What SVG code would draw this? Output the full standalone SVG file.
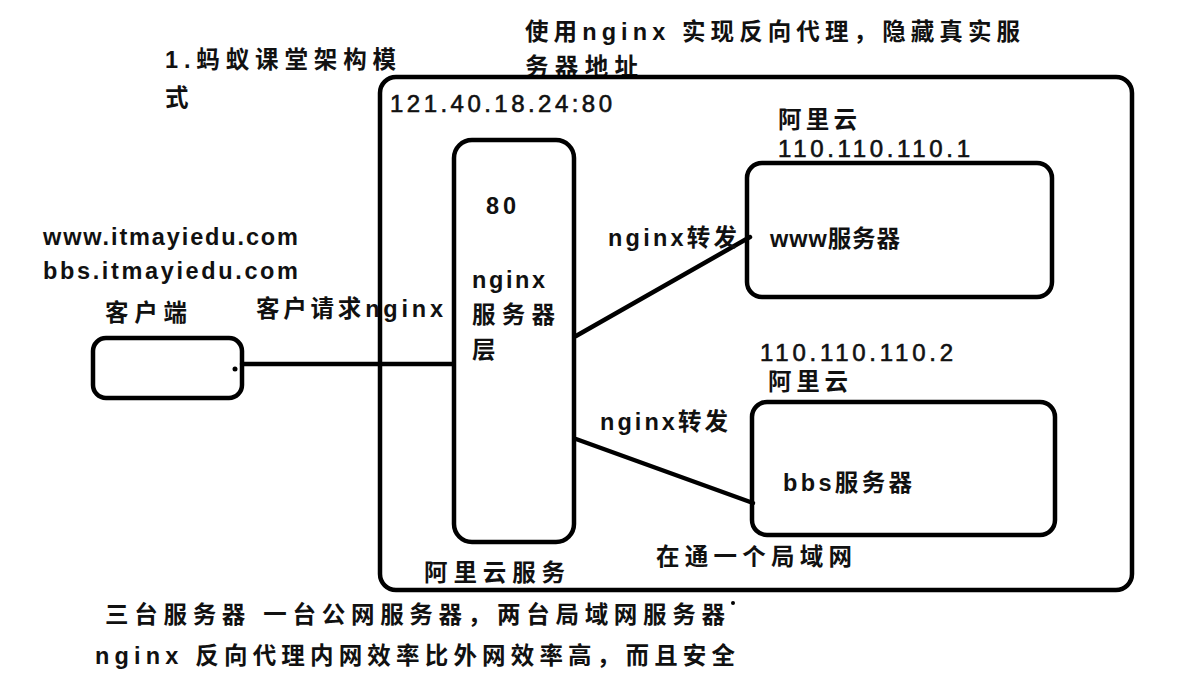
<svg xmlns="http://www.w3.org/2000/svg" width="1186" height="699" viewBox="0 0 1186 699">
<style>
.box{fill:none;stroke:#000;stroke-width:4.5}
.ln{fill:none;stroke:#000;stroke-width:4.5;stroke-linecap:round}
text{font-family:"Liberation Sans","Noto Sans CJK SC",sans-serif;font-size:23.5px;font-weight:bold;fill:#111}
.cj{font-family:"Noto Sans CJK SC",sans-serif}
.num{font-weight:normal;font-size:24px;stroke:#111;stroke-width:0.6}
</style>
<rect width="1186" height="699" fill="#fff"/>
<g id="notes">
<text x="165" y="68" textLength="231" lengthAdjust="spacing">1.蚂蚁课堂架构模</text>
<text x="165" y="106" class="cj">式</text>
<text x="525" y="40" textLength="495" lengthAdjust="spacing">使用nginx 实现反向代理，隐藏真实服</text>
<text x="525" y="75" textLength="113" lengthAdjust="spacing" class="cj">务器地址</text>
<text x="43" y="245" textLength="255" lengthAdjust="spacing">www.itmayiedu.com</text>
<text x="43" y="279" textLength="255" lengthAdjust="spacing">bbs.itmayiedu.com</text>
<text x="105" y="623" textLength="620" lengthAdjust="spacing">三台服务器 一台公网服务器，两台局域网服务器</text>
<circle cx="733" cy="603" r="2" fill="#000"/>
<text x="95" y="664" textLength="640" lengthAdjust="spacing">nginx 反向代理内网效率比外网效率高，而且安全</text>
</g>
<g id="aliyun">
<rect class="box" x="380" y="77" width="752" height="513" rx="16"/>
<text x="390" y="112" textLength="222" lengthAdjust="spacing" class="num">121.40.18.24:80</text>
<text x="424" y="581" textLength="141" lengthAdjust="spacing" class="cj">阿里云服务</text>
<text x="656" y="565" textLength="196" lengthAdjust="spacing" class="cj">在通一个局域网</text>
</g>
<g id="connectors">
<line class="ln" x1="242" y1="364" x2="453" y2="364"/>
<line class="ln" x1="576" y1="336" x2="750" y2="237"/>
<line class="ln" x1="576" y1="439" x2="753" y2="503"/>
<text x="256" y="317" textLength="187" lengthAdjust="spacing">客户请求nginx</text>
<text x="608" y="246" textLength="129" lengthAdjust="spacing">nginx转发</text>
<text x="600" y="430" textLength="128" lengthAdjust="spacing">nginx转发</text>
</g>
<g id="client">
<rect class="box" x="93" y="338" width="149" height="60" rx="13"/>
<circle cx="235" cy="369" r="2.5" fill="#000"/>
<text x="105" y="321" textLength="82" lengthAdjust="spacing" class="cj">客户端</text>
</g>
<g id="nginx">
<rect class="box" x="454" y="140" width="120" height="402" rx="18"/>
<text x="486" y="214" textLength="30" lengthAdjust="spacing">80</text>
<text x="472" y="288" textLength="73" lengthAdjust="spacing">nginx</text>
<text x="472" y="323" textLength="83" lengthAdjust="spacing" class="cj">服务器</text>
<text x="472" y="358" class="cj">层</text>
</g>
<g id="www">
<rect class="box" x="747" y="163" width="305" height="134" rx="15"/>
<text x="778" y="128" textLength="79" lengthAdjust="spacing" class="cj">阿里云</text>
<text x="778" y="157" textLength="192" lengthAdjust="spacing" class="num">110.110.110.1</text>
<text x="770" y="247" textLength="130" lengthAdjust="spacing">www服务器</text>
</g>
<g id="bbs">
<rect class="box" x="752" y="402" width="303" height="133" rx="15"/>
<text x="760" y="361" textLength="193" lengthAdjust="spacing" class="num">110.110.110.2</text>
<text x="768" y="390" textLength="80" lengthAdjust="spacing" class="cj">阿里云</text>
<text x="783" y="491" textLength="129" lengthAdjust="spacing">bbs服务器</text>
</g>
</svg>
